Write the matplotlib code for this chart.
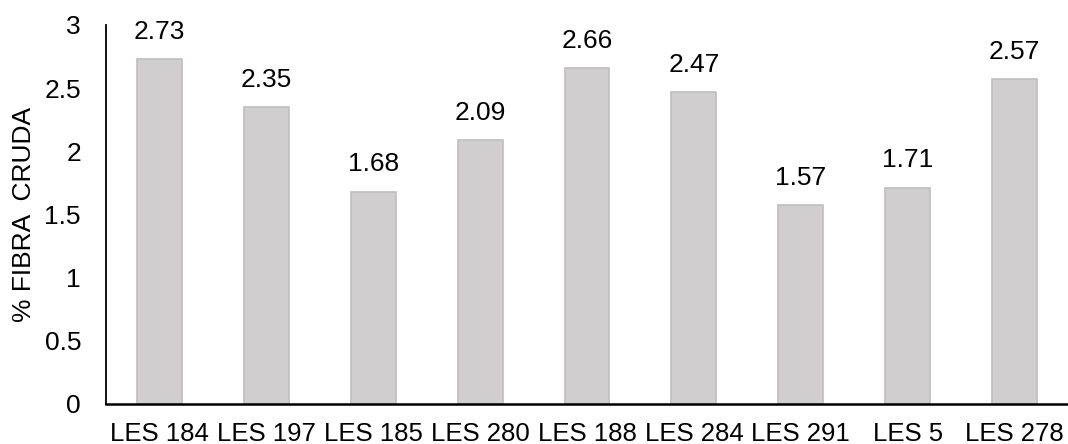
import matplotlib
matplotlib.use("Agg")
import matplotlib.pyplot as plt

plt.rcParams['font.family'] = ['Liberation Sans', 'DejaVu Sans']

lineas = ["LES 184", "LES 197", "LES 185", "LES 280", "LES 188",
          "LES 284", "LES 291", "LES 5", "LES 278"]
fibra = [2.73, 2.35, 1.68, 2.09, 2.66, 2.47, 1.57, 1.71, 2.57]
yticks = [0, 0.5, 1, 1.5, 2, 2.5, 3]

fig = plt.figure(figsize=(10.68, 4.44), dpi=100)
ax = fig.add_axes([106 / 1068, 40.5 / 444, 1 - 106 / 1068, 378.5 / 444])

x = range(len(lineas))
barras = ax.bar(x, fibra, width=0.42, color="#d0cece",
                edgecolor="#c0bebe", linewidth=1.2, zorder=2)

for xi, v in zip(x, fibra):
    ax.annotate(f"{v:.2f}", (xi, v), xytext=(0, 11), textcoords="offset points",
                ha="center", va="bottom", fontsize=19)

ax.set_xlim(-0.5, len(lineas) - 0.5)
ax.set_ylim(0, 3)
ax.set_yticks(yticks)
ax.set_yticklabels([f"{t:g}" for t in yticks])
ax.set_xticks(list(x))
ax.set_xticklabels(lineas)
ax.tick_params(axis="both", length=0, labelsize=18.5)
ax.tick_params(axis="y", labelsize=19, pad=18)
ax.tick_params(axis="x", pad=13)

ax.set_ylabel("% FIBRA  CRUDA", fontsize=19, labelpad=6)

for lado in ["top", "right"]:
    ax.spines[lado].set_visible(False)
ax.spines["left"].set_linewidth(1.3)
ax.spines["bottom"].set_linewidth(1.8)

fig.savefig("out.png", dpi=100)
